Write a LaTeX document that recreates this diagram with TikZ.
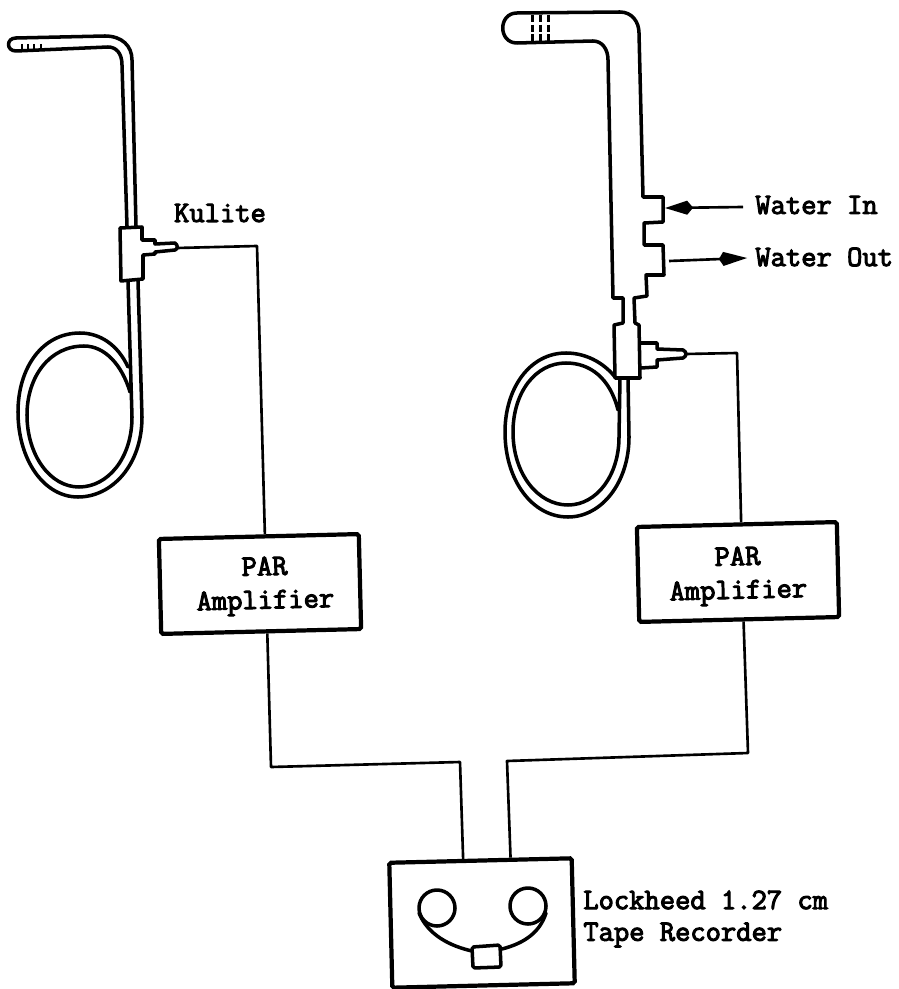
\documentclass[tikz,border=0pt]{standalone}
\usepackage{fontspec}
\newfontfamily\labelfont[FakeBold=3.5]{Latin Modern Mono}
\usetikzlibrary{arrows.meta}
\tikzset{
	tubeline/.style={line width=2pt,line join=round,line cap=round},
	wireline/.style={line width=1.5pt,line join=round},
	boxnode/.style={draw,line width=2.4pt,rounded corners=1pt,inner sep=0pt,rotate=1.4},
	labeltext/.style={font=\fontsize{16.9}{18}\selectfont\labelfont,inner sep=0pt,align=center},
}
\begin{document}
\begin{tikzpicture}[x=0.02cm,y=-0.02cm]
	\useasboundingbox (0,0) rectangle (898,989);

	% left probe
	\draw[tubeline] (16,38) -- (105,36) .. controls (122,36) and (132,46) .. (132,60) -- (136,226);
	\draw[tubeline] (16,38) .. controls (6,38) and (6,51) .. (16,51) -- (108,47) .. controls (116,47) and (122,53) .. (122,65) -- (127,226);
	\foreach \tx in {22,28,34,41} \draw[line width=1.4pt] (\tx,44) -- (\tx,50);
	\draw[tubeline] (120,228) -- (142,227) -- (142,240) -- (155,240) -- (155,244) -- (175,243) .. controls (178,245) and (178,249) .. (175,250) -- (155,252) -- (155,254) -- (143,255) -- (143,279) -- (121,281) -- cycle;
	\draw[tubeline] (138,281) -- (142,417) .. controls (142,465) and (112,497) .. (78,497) .. controls (44,497) and (18,460) .. (18,412) .. controls (18,368) and (42,333) .. (80,333) .. controls (100,333) and (118,345) .. (128,367);
	\draw[tubeline] (128,281) -- (132,417) .. controls (132,458) and (108,487) .. (79,487) .. controls (50,487) and (27,455) .. (27,415) .. controls (27,376) and (50,346) .. (84,346) .. controls (105,346) and (122,365) .. (130,392);

	% right probe
	\draw[tubeline] (517,13) -- (620,12) .. controls (632,12) and (639,22) .. (639,33) -- (643,197) -- (663,197) -- (663,222) -- (644,223) -- (644,245) -- (663,245) -- (664,275) -- (646,275) -- (647,296) -- (634,298) -- (635,323) -- (639,325) -- (640,378) -- (615,378) -- (614,325) -- (623,323) -- (623,298) -- (613,298) -- (608,60) .. controls (608,49) and (602,41) .. (593,41) -- (517,43) .. controls (498,43) and (498,13) .. (517,13) -- cycle;
	\foreach \tx in {532,540,548} \draw[line width=1.7pt,dash pattern=on 4pt off 1.5pt] (\tx,15) -- (\tx,42);
	\draw[tubeline] (641,343) -- (657,343) -- (657,349) -- (683,350) .. controls (687,352) and (687,356) .. (683,358) -- (657,360) -- (657,367) -- (641,368);
	\draw[tubeline] (628,378) -- (629,437) .. controls (629,482) and (602,517) .. (568,517) .. controls (532,517) and (505,480) .. (505,432) .. controls (505,388) and (530,353) .. (566,353) .. controls (585,353) and (603,362) .. (615,377);
	\draw[tubeline] (620,378) -- (619,437) .. controls (619,475) and (597,505) .. (568,505) .. controls (538,505) and (513,474) .. (513,432) .. controls (513,393) and (535,363) .. (566,363) .. controls (590,363) and (610,378) .. (618,410);

	% boxes and labels
	\node[boxnode,minimum width=4cm,minimum height=1.9cm] (ampL) at (260,584) {};
	\node[boxnode,minimum width=4cm,minimum height=1.9cm] (ampR) at (738,572) {};
	\node[boxnode,minimum width=3.65cm,minimum height=2.5cm] (recorder) at (482,923) {};
	\node[labeltext,rotate=1.4] (ampLtext) at (265,586) {PAR\\[1pt]Amplifier};
	\node[labeltext,rotate=1.4] (ampRtext) at (738,576) {PAR\\[1pt]Amplifier};
	\node[labeltext] (kulite) at (220,213) {Kulite};
	\node[labeltext,anchor=west] (waterIn) at (755,205) {Water In};
	\node[labeltext,anchor=west] (waterOut) at (755,257) {Water Out};
	\node[labeltext,anchor=west] (lockheed) at (583,900) {Lockheed 1.27 cm};
	\node[labeltext,anchor=west] (tape) at (583,935) {Tape Recorder};

	% wires
	\coordinate (kuliteTip) at (177,248);
	\coordinate (kuliteTipR) at (686,354);
	\draw[wireline] (kuliteTip) -- (257,246) -- (ampL.83);
	\draw[wireline] (kuliteTipR) -- (737,353) -- (ampR.85);
	\draw[wireline] (ampL.-83) -- (271,767) -- (460,762) -- (recorder.105);
	\draw[wireline] (ampR.-85) -- (748,753) -- (507,761) -- (recorder.65);

	% water arrows
	\coordinate (inStart) at (743,207);
	\coordinate (inEnd) at (665,208);
	\coordinate (outStart) at (669,261);
	\coordinate (outEnd) at (747,258);
	\draw[wireline,-{Kite[length=16pt,width=8pt,inset=3.4pt]}] (inStart) -- (inEnd);
	\draw[wireline,-{Kite[length=16pt,width=8pt,inset=2.5pt]}] (outStart) -- (outEnd);

	% tape recorder
	\draw[tubeline] (437,908) circle (18);
	\draw[tubeline] (528,906) circle (18);
	\draw[tubeline] (419,913) .. controls (428,935) and (450,946) .. (472,951);
	\draw[tubeline] (502,949) .. controls (525,943) and (540,932) .. (546,913);
	\draw[tubeline,rounded corners=1pt] (472,947) -- (500,945) -- (501,967) -- (473,968) -- cycle;
\end{tikzpicture}
\end{document}
